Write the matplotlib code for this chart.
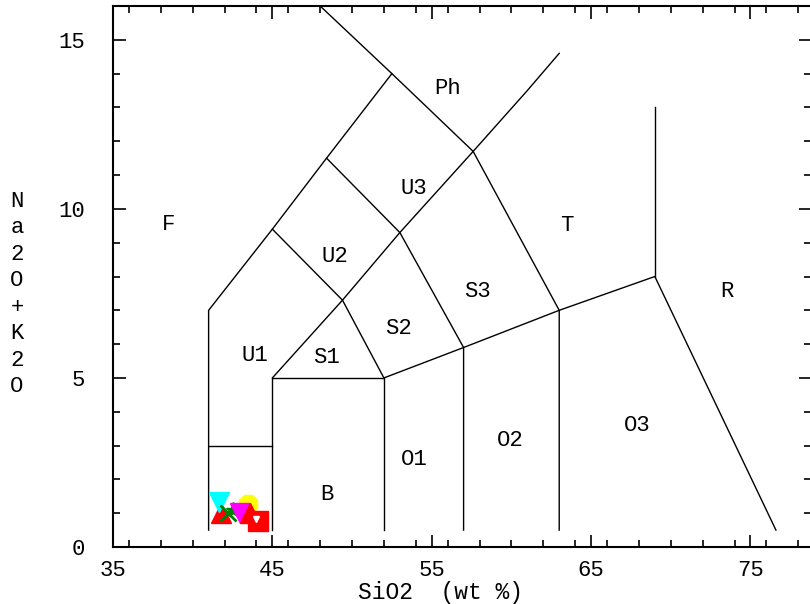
import matplotlib.pyplot as plt
from matplotlib.ticker import MultipleLocator

# TAS field boundaries (SiO2, Na2O+K2O)
tas_lines = [
    [(41, 0.5), (41, 7), (45, 9.4), (48.4, 11.5), (52.5, 14), (48, 16)],
    [(41, 3), (45, 3)],
    [(45, 0.5), (45, 5), (52, 5), (52, 0.5)],
    [(52, 5), (57, 5.9), (63, 7), (69, 8), (76.6, 0.5)],
    [(57, 0.5), (57, 5.9), (53, 9.3), (48.4, 11.5)],
    [(63, 0.5), (63, 7), (57.6, 11.7), (52.5, 14)],
    [(45, 9.4), (49.4, 7.3), (52, 5)],
    [(45, 5), (49.4, 7.3), (53, 9.3), (57.6, 11.7), (61, 13.5), (63, 14.6)],
    [(69, 8), (69, 13)],
]

field_names = ["F", "Ph", "U3", "T", "U2", "S3", "R", "S2", "U1", "S1",
               "O1", "O2", "O3", "B"]
field_x = [38.5, 56.0, 53.9, 63.5, 48.9, 57.9, 73.5, 52.9, 43.9, 48.4,
           53.9, 59.9, 67.9, 48.4]
field_y = [9.55, 13.55, 10.6, 9.5, 8.6, 7.55, 7.55, 6.45, 5.65, 5.6,
           2.6, 3.15, 3.6, 1.55]

# samples
sio2 = [41.8, 41.65, 42.2, 42.5, 43.5, 43.0, 43.6, 44.1]
alkali = [1.0, 1.32, 1.0, 1.1, 1.27, 1.0, 1.0, 0.77]
marker = ["^", "v", "x", "*", "8", "v", "^", "s"]
color = ["red", "cyan", "green", "green", "yellow", "magenta", "red", "red"]

plt.rcParams['font.family'] = ['Liberation Mono', 'DejaVu Sans Mono']

fig = plt.figure(figsize=(8.1, 6.04), dpi=100)
ax = fig.add_axes([113 / 810, 57 / 604, 698 / 810, 541 / 604])

for line in tas_lines:
    xs, ys = zip(*line)
    ax.plot(xs, ys, color="black", lw=1.0)

for name, x, y in zip(field_names, field_x, field_y):
    ax.text(x, y, name, fontsize=16, ha="center", va="center")

for x, y, m, c in zip(sio2, alkali, marker, color):
    ax.plot(x, y, m, color=c, ms=14 if m not in "x*" else 11,
            mew=2 if m == "x" else 1, linestyle="none")
# white notch on the last square
ax.plot(sio2[-1] - 0.12, alkali[-1] + 0.05, "v", color="white", ms=5)

ax.set_xlim(35, 78.8)
ax.set_ylim(0, 16)
ax.xaxis.set_major_locator(MultipleLocator(10))
ax.xaxis.set_minor_locator(MultipleLocator(2))
ax.yaxis.set_major_locator(MultipleLocator(5))
ax.yaxis.set_minor_locator(MultipleLocator(1))
ax.set_xticks([35, 45, 55, 65, 75])
ax.tick_params(which="both", direction="in", top=True, right=True, width=1.2)
ax.tick_params(which="major", length=9, labelsize=16)
ax.tick_params(which="minor", length=5)
ax.tick_params(axis="x", pad=9)
ax.tick_params(axis="y", pad=20)
for s in ax.spines.values():
    s.set_linewidth(1.5)

fig.text(440 / 810, 1 - 592 / 604, "SiO2  (wt %)", fontsize=16.5,
         ha="center", va="center")
fig.text(17 / 810, 1 - 294 / 604, "N\na\n2\nO\n+\nK\n2\nO", fontsize=16,
         ha="center", va="center", linespacing=1.34)

fig.savefig("out.png", dpi=100)
